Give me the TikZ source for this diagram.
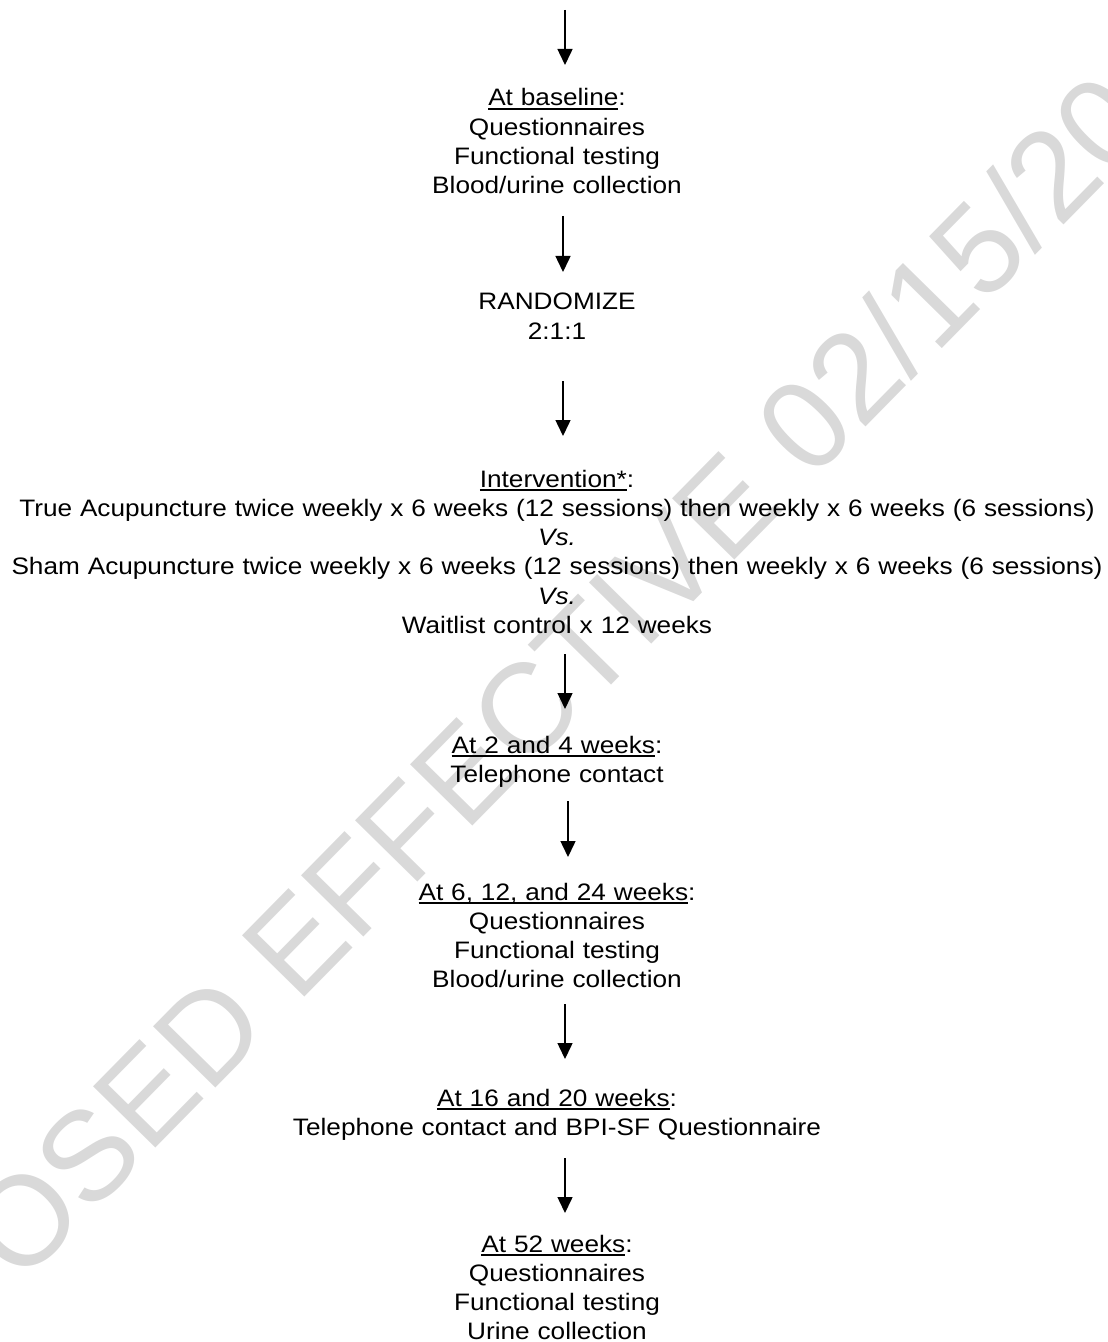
\documentclass[tikz,border=0pt]{standalone}
\usepackage{fontspec}
\setmainfont{Liberation Sans}[FakeStretch=1.1]
\newfontfamily\wmfont{Liberation Sans}
\usetikzlibrary{arrows.meta}
\definecolor{wmgray}{RGB}{217,217,217}
\newcommand{\ulx}[1]{\setbox0\hbox{#1}\rlap{\rule[-2pt]{\wd0}{0.9pt}}\box0}
\tikzset{
  lbl/.style={text width=560pt, align=center, inner sep=0pt, anchor=base,
              font=\fontsize{11.9}{14.65}\selectfont},
  arr/.style={line width=0.75pt, -{Triangle[length=8pt,width=7.5pt]}},
  wm/.style={font=\wmfont\fontsize{63.5}{70}\selectfont, text=wmgray,
             inner sep=0pt, anchor=base west, rotate=45.5}
}
\begin{document}
\begin{tikzpicture}[x=0.5pt,y=-0.5pt]
\useasboundingbox (0,0) rectangle (1107,1342);
\begin{scope}
  \clip (0,0) rectangle (1107,1342);
  \node[wm] (wmk) at (20,1287) {OSED EFFECTIVE 02/15/20};
\end{scope}

% text blocks
\node[lbl] (base) at (557,106) {\ulx{At baseline}:\\Questionnaires\\Functional testing\\Blood/urine collection};
\node[lbl] (rand) at (557,310) {RANDOMIZE\\2:1:1};
\node[lbl] (interv) at (557,487) {\ulx{Intervention*}:\\True Acupuncture twice weekly x 6 weeks (12 sessions) then weekly x 6 weeks (6 sessions)\\\textit{Vs.}\\Sham Acupuncture twice weekly x 6 weeks (12 sessions) then weekly x 6 weeks (6 sessions)\\\textit{Vs.}\\Waitlist control x 12 weeks};
\node[lbl] (w24) at (557,753) {\ulx{At 2 and 4 weeks}:\\Telephone contact};
\node[lbl] (w61224) at (557,900) {\ulx{At 6, 12, and 24 weeks}:\\Questionnaires\\Functional testing\\Blood/urine collection};
\node[lbl] (w1620) at (557,1106) {\ulx{At 16 and 20 weeks}:\\Telephone contact and BPI-SF Questionnaire};
\node[lbl] (w52) at (557,1252) {\ulx{At 52 weeks}:\\Questionnaires\\Functional testing\\Urine collection};

% arrow end points
\coordinate (a1s) at (565,10);   \coordinate (a1e) at (565,65);
\coordinate (a2s) at (563,216);  \coordinate (a2e) at (563,272);
\coordinate (a3s) at (563,381);  \coordinate (a3e) at (563,436);
\coordinate (a4s) at (565,654);  \coordinate (a4e) at (565,709);
\coordinate (a5s) at (568,801);  \coordinate (a5e) at (568,857);
\coordinate (a6s) at (565,1004); \coordinate (a6e) at (565,1059);
\coordinate (a7s) at (565,1158); \coordinate (a7e) at (565,1213);

\draw[arr] (a1s) -- (a1e);
\draw[arr] (a2s) -- (a2e);
\draw[arr] (a3s) -- (a3e);
\draw[arr] (a4s) -- (a4e);
\draw[arr] (a5s) -- (a5e);
\draw[arr] (a6s) -- (a6e);
\draw[arr] (a7s) -- (a7e);
\end{tikzpicture}
\end{document}
